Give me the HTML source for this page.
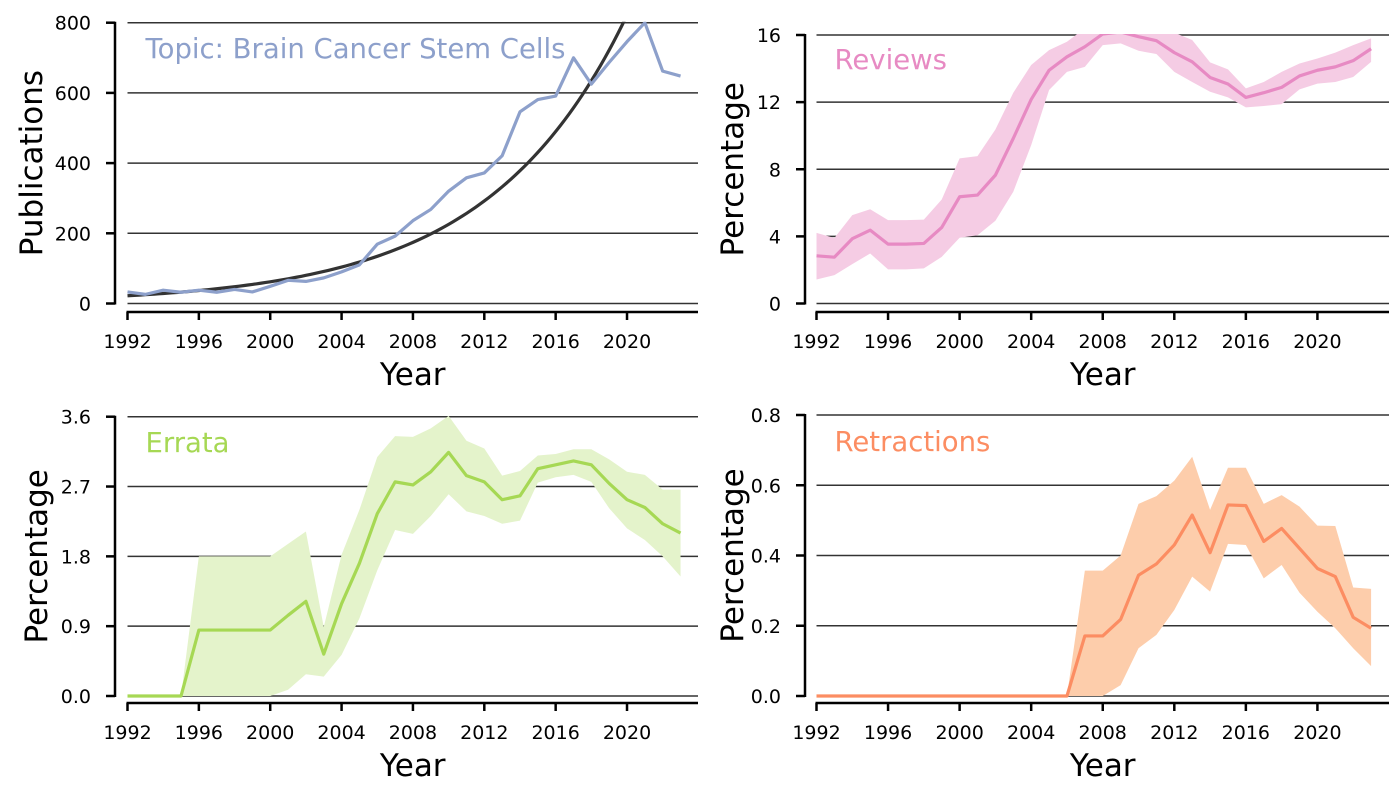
<!DOCTYPE html>
<html><head><meta charset="utf-8"><style>
html,body{margin:0;padding:0;background:#fff;}
svg{display:block;font-family:"DejaVu Sans","Liberation Sans",sans-serif;}
</style></head><body>
<svg id="c" width="1400" height="800" viewBox="0 0 1400 800"></svg>
<script>
const years = Array.from({length:32},(_,i)=>1992+i);
const pubValues = [33,26,38,32,38,32,40,33,49,66,63,73,90,110,169,192,236,268,320,358,372,421,546,581,591,700,625,687,746,800,662,648];
const fitA = 22, fitB = 0.1293;
const reviewMean = [2.84,2.76,3.86,4.37,3.54,3.54,3.58,4.53,6.36,6.46,7.65,9.84,12.16,13.9,14.7,15.3,16.06,16.18,15.9,15.66,14.95,14.4,13.47,13.08,12.28,12.56,12.88,13.56,13.9,14.1,14.47,15.18];
const reviewHi = [4.21,3.9,5.27,5.62,4.97,4.97,5.0,6.2,8.65,8.78,10.37,12.56,14.21,15.1,15.6,16.4,16.66,16.8,16.66,16.46,16.14,15.7,14.37,13.95,12.82,13.2,13.8,14.3,14.6,14.95,15.4,15.8];
const reviewLo = [1.43,1.69,2.35,2.98,2.03,2.03,2.09,2.78,3.92,4.07,4.93,6.66,9.44,12.72,13.8,14.1,15.4,15.5,15.06,14.87,13.8,13.2,12.62,12.28,11.69,11.77,11.88,12.76,13.1,13.2,13.5,14.4];
const errMean = [0,0,0,0,0.85,0.85,0.85,0.85,0.85,1.04,1.22,0.54,1.19,1.71,2.35,2.76,2.72,2.89,3.14,2.84,2.76,2.53,2.58,2.93,2.98,3.03,2.98,2.74,2.53,2.43,2.22,2.1];
const errHi = [0,0,0,0,1.8,1.8,1.8,1.8,1.8,1.96,2.12,0.89,1.82,2.4,3.08,3.35,3.34,3.45,3.61,3.29,3.19,2.84,2.9,3.1,3.12,3.18,3.18,3.05,2.89,2.85,2.66,2.66];
const errLo = [0,0,0,0,0,0,0,0,0,0.08,0.28,0.25,0.53,1.0,1.62,2.14,2.09,2.32,2.6,2.38,2.32,2.22,2.26,2.75,2.82,2.85,2.76,2.42,2.16,2.01,1.8,1.54];
const retMean = [0,0,0,0,0,0,0,0,0,0,0,0,0,0,0,0.171,0.171,0.218,0.344,0.376,0.43,0.515,0.408,0.544,0.542,0.44,0.477,0.42,0.363,0.34,0.224,0.193];
const retHi = [0,0,0,0,0,0,0,0,0,0,0,0,0,0,0,0.357,0.357,0.40,0.547,0.569,0.613,0.681,0.53,0.65,0.65,0.547,0.572,0.539,0.485,0.484,0.309,0.305];
const retLo = [0,0,0,0,0,0,0,0,0,0,0,0,0,0,0,0,0,0.031,0.136,0.174,0.245,0.34,0.297,0.433,0.43,0.335,0.373,0.294,0.24,0.193,0.136,0.085];
const xTicks = [1992,1996,2000,2004,2008,2012,2016,2020];
const pubTicks = [0,200,400,600,800];
const revTicks = [0,4,8,12,16];
const errTicks = [0,0.9,1.8,2.7,3.6];
const errTickLabels = ["0.0","0.9","1.8","2.7","3.6"];
const retTicks = [0,0.2,0.4,0.6,0.8];
const retTickLabels = ["0.0","0.2","0.4","0.6","0.8"];

const svg = document.getElementById('c');
const NS = 'http://www.w3.org/2000/svg';
function mk(tag, attrs, parent){const e=document.createElementNS(NS,tag);for(const k in attrs)e.setAttribute(k,attrs[k]);(parent||svg).appendChild(e);return e;}

function panel(o){
  const g = mk('g',{});
  
  
  const xs = y => o.x0 + (y-1992)*o.dx;
  const ys = v => o.yBot - (v-o.ymin)/(o.ymax-o.ymin)*(o.yBot-o.yTop);
  const clip = 'clip-'+o.name;
  const cp = mk('clipPath',{id:clip},g);
  mk('rect',{x:o.x0-2,y:o.yTop-1,width:o.xEnd-o.x0+4,height:o.yBot-o.yTop+3},cp);
  o.ticks.forEach((t,i)=>{
    const l = mk('line',{x1:o.x0,x2:o.xEnd,y1:ys(t),y2:ys(t),stroke:'#333',"stroke-width":1.5},g);
    
    
    mk('line',{x1:o.spineX-9,x2:o.spineX,y1:ys(t),y2:ys(t),stroke:'#000',"stroke-width":2.5},g);
    const tx = mk('text',{x:o.spineX-24,y:ys(t)+7,"text-anchor":'end',"font-size":19,fill:'#000'},g);
    tx.textContent = o.tickLabels ? o.tickLabels[i] : String(t);
    
    
  });
  const ysp = mk('line',{x1:o.spineX,x2:o.spineX,y1:ys(o.ymax)-1,y2:ys(o.ymin)+1,stroke:'#000',"stroke-width":2.5},g);
  
  
  const xsp = mk('line',{x1:o.x0-1,x2:o.xEnd,y1:o.xAxisY,y2:o.xAxisY,stroke:'#000',"stroke-width":2.5},g);
  
  
  xTicks.forEach(t=>{
    mk('line',{x1:xs(t),x2:xs(t),y1:o.xAxisY,y2:o.xAxisY+8,stroke:'#000',"stroke-width":2.5},g);
    const tx = mk('text',{x:xs(t),y:o.xAxisY+36,"text-anchor":'middle',"font-size":19,fill:'#000'},g);
    tx.textContent = String(t);
    
    
  });
  const xl = mk('text',{x:(o.x0+o.xEnd)/2,y:o.xAxisY+73,"text-anchor":'middle',"font-size":31,fill:'#000'},g);
  xl.textContent='Year';
  
  
  const yl = mk('text',{x:0,y:0,"text-anchor":'middle',"font-size":31,fill:'#000',transform:`translate(${o.ylabX},${(o.yTop+o.yBot)/2}) rotate(-90)`},g);
  yl.textContent=o.ylabel;
  
  
  const inner = mk('g',{"clip-path":`url(#${clip})`},g);
  if(o.hi){
    let d = years.map((y,i)=>(i?'L':'M')+xs(y)+','+ys(o.hi[i])).join('');
    for(let i=years.length-1;i>=0;i--) d+='L'+xs(years[i])+','+ys(o.lo[i]);
    const band = mk('path',{d:d+'Z',fill:o.band,stroke:'none'},inner);
    
    
  }
  if(o.fit){
    const pts=[];for(let t=1992;t<=2023.01;t+=0.25)pts.push(xs(t)+','+ys(Math.min(fitA*Math.exp(fitB*(t-1992)),o.ymax*1.2)));
    const f = mk('polyline',{points:pts.join(' '),fill:'none',stroke:'#333',"stroke-width":3.2},inner);
    
    
  }
  const ln = mk('polyline',{points:years.map((y,i)=>xs(y)+','+ys(o.mean[i])).join(' '),fill:'none',stroke:o.color,"stroke-width":3.2,"stroke-linejoin":'round'},inner);
  
  
  const tt = mk('text',{x:o.x0+18,y:o.titleY,"font-size":27.5,fill:o.color},g);
  tt.textContent=o.title;
  
  
}
panel({name:'publications-panel',x0:127.5,dx:17.84,xEnd:698,spineX:115,yTop:22.7,yBot:303.5,ymin:0,ymax:800,xAxisY:312,ticks:pubTicks,mean:pubValues,fit:true,color:'#8da0cb',title:'Topic: Brain Cancer Stem Cells',titleY:58,ylabel:'Publications',ylabX:42});
panel({name:'reviews-panel',x0:816.5,dx:17.89,xEnd:1389,spineX:805,yTop:35,yBot:303.5,ymin:0,ymax:16,xAxisY:312,ticks:revTicks,mean:reviewMean,hi:reviewHi,lo:reviewLo,color:'#e78ac3',band:'#f5cce4',title:'Reviews',titleY:69,ylabel:'Percentage',ylabX:743});
panel({name:'errata-panel',x0:127.5,dx:17.84,xEnd:698,spineX:115,yTop:416.7,yBot:696,ymin:0,ymax:3.6,xAxisY:703,ticks:errTicks,tickLabels:errTickLabels,mean:errMean,hi:errHi,lo:errLo,color:'#a6d854',band:'#e4f3cb',title:'Errata',titleY:452,ylabel:'Percentage',ylabX:47});
panel({name:'retractions-panel',x0:816.5,dx:17.89,xEnd:1389,spineX:805,yTop:415,yBot:696,ymin:0,ymax:0.8,xAxisY:703,ticks:retTicks,tickLabels:retTickLabels,mean:retMean,hi:retHi,lo:retLo,color:'#fc8d62',band:'#fdcdab',title:'Retractions',titleY:451,ylabel:'Percentage',ylabX:743});
</script>
</body></html>
